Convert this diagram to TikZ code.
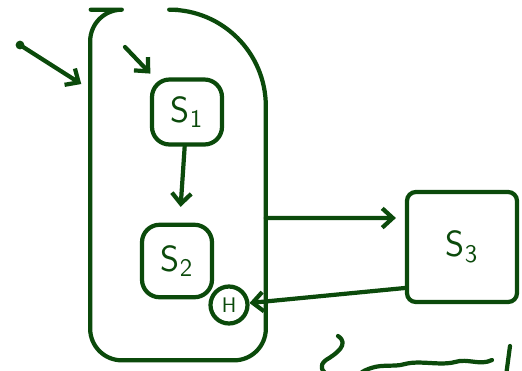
\documentclass[tikz,border=0pt]{standalone}
\usepackage{xcolor}
\usepackage{tikz}
\usetikzlibrary{arrows.meta, positioning, calc}
\definecolor{inkgreen}{HTML}{0B4A0B}

\begin{document}
\begin{tikzpicture}[x=0.02cm, y=-0.02cm, >={Straight Barb[length=6pt, width=11pt]},
    ink/.style={draw=inkgreen, line width=2.4pt, line cap=round, line join=round},
    state/.style={ink, rounded corners=10pt, minimum width=1.4cm,
      minimum height=1.3cm, text=inkgreen, font=\sffamily\huge, inner sep=0pt},
    bigstate/.style={state, rounded corners=5pt, minimum width=2.2cm, minimum height=2.2cm},
    histnode/.style={ink, circle, minimum size=0.74cm, inner sep=0pt,
      text=inkgreen, font=\sffamily\large},
    trans/.style={->, ink},
  ]
    \useasboundingbox (0,0) rectangle (522,370);
    \clip (0,0) rectangle (522,370);

    % composite state with its gap at the top
    \node[minimum width=3.5cm, minimum height=7cm] (comp) at (178,185) {};
    \draw[ink] ($(comp.north)+(-0.42,0)$) [rounded corners=55pt] -- (comp.north east)
      [rounded corners=18pt] -- (comp.south east) -- (comp.south west)
      -- (comp.north west) -- ($(comp.north west)+(0.54,0)$);

    % inner states
    \node[state] (s1) at (187,112) {S\textsubscript{1}};
    \node[state, minimum height=1.45cm] (s2) at (177,261) {S\textsubscript{2}};
    \node[histnode] (hist) at (229,305) {H};
    \node[bigstate] (s3) at (462,247) {S\textsubscript{3}};

    % initial points
    \coordinate (init) at (20,45);
    \coordinate (init1) at (125,47);
    \fill[inkgreen] (init) circle (2.5pt);

    \draw[trans, shorten >=6pt] (init) -- ([yshift=-1.6cm]comp.north west);
    \draw[trans, shorten >=3pt] (init1) -- (s1);
    \draw[trans, shorten >=9pt] (s1) -- (s2);
    \draw[trans, shorten >=0.18cm] ([yshift=-0.66cm]comp.east) -- ([yshift=0.58cm]s3.west);
    \draw[trans] ([yshift=-0.82cm]s3.west) -- (hist);

    % cut-off note at the bottom
    \draw[ink] (338,336) .. controls (350,344) and (336,354) .. (326,360)
      .. controls (318,366) and (322,372) .. (330,376);
    \draw[ink] (362,372) .. controls (380,362) and (392,368) .. (405,364)
      .. controls (420,360) and (440,366) .. (455,362)
      .. controls (468,358) and (480,366) .. (492,360);
    \draw[ink] (510,346) -- (506,376);
  \end{tikzpicture}
\end{document}
